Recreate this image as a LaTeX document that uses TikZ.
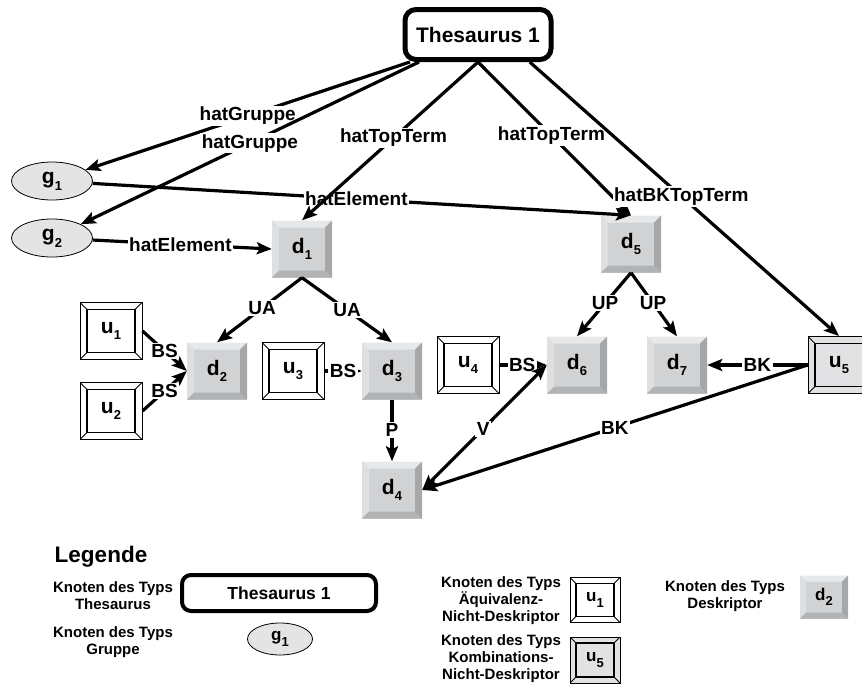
\documentclass[tikz,border=0pt]{standalone}
\usepackage{fontspec}
\setmainfont{Liberation Sans}
\usetikzlibrary{arrows.meta,shapes.geometric}

\definecolor{dmid}{HTML}{D1D2D4}
\definecolor{dtop}{HTML}{E7E8EA}
\definecolor{dleft}{HTML}{DEDFE1}
\definecolor{dright}{HTML}{A6A7A9}
\definecolor{dbot}{HTML}{B2B3B5}
\definecolor{kfill}{HTML}{E2E2E4}
\definecolor{gfill}{HTML}{E4E4E4}

% lowered index digit in the node names
\newcommand\lowidx[1]{\raisebox{-0.32em}{\fontsize{13}{13}\selectfont #1}}

\tikzset{
  bevel/.store in=\bevelw, bevel=7pt,
  % descriptor: grey key-cap with light top/left and dark right/bottom bevel
  desc/.style={rectangle, inner sep=0pt, minimum width=60pt, minimum height=57pt,
    fill=dmid, font=\fontsize{21}{21}\selectfont\bfseries,
    path picture={
      \fill[dtop] (path picture bounding box.north west) -- (path picture bounding box.north east)
        -- ([shift={(-\bevelw,-\bevelw)}]path picture bounding box.north east)
        -- ([shift={(\bevelw,-\bevelw)}]path picture bounding box.north west) -- cycle;
      \fill[dleft] (path picture bounding box.north west) -- (path picture bounding box.south west)
        -- ([shift={(\bevelw,\bevelw)}]path picture bounding box.south west)
        -- ([shift={(\bevelw,-\bevelw)}]path picture bounding box.north west) -- cycle;
      \fill[dright] (path picture bounding box.north east) -- (path picture bounding box.south east)
        -- ([shift={(-\bevelw,\bevelw)}]path picture bounding box.south east)
        -- ([shift={(-\bevelw,-\bevelw)}]path picture bounding box.north east) -- cycle;
      \fill[dbot] (path picture bounding box.south west) -- (path picture bounding box.south east)
        -- ([shift={(-\bevelw,\bevelw)}]path picture bounding box.south east)
        -- ([shift={(\bevelw,\bevelw)}]path picture bounding box.south west) -- cycle;
    }},
  % non-descriptor: double frame with mitred corners
  equiv/.style={rectangle, inner sep=0pt, minimum width=62pt, minimum height=57pt,
    fill=white, draw=black, line width=1pt, font=\fontsize{21}{21}\selectfont\bfseries,
    path picture={
      \draw[line width=1.6pt] ([shift={(\bevelw,-\bevelw)}]path picture bounding box.north west)
        rectangle ([shift={(-\bevelw,\bevelw)}]path picture bounding box.south east);
      \draw[line width=0.8pt]
        (path picture bounding box.north west) -- ++(\bevelw,-\bevelw)
        (path picture bounding box.north east) -- ++(-\bevelw,-\bevelw)
        (path picture bounding box.south west) -- ++(\bevelw,\bevelw)
        (path picture bounding box.south east) -- ++(-\bevelw,\bevelw);
    }},
  komb/.style={equiv, fill=kfill},
  grp/.style={ellipse, draw=black, line width=0.8pt, fill=gfill, inner sep=0pt,
    minimum width=81pt, minimum height=38pt, font=\fontsize{21}{21}\selectfont\bfseries},
  thesbox/.style={rectangle, rounded corners=11pt, draw=black, line width=5pt, fill=white,
    minimum width=146pt, minimum height=50pt, font=\fontsize{21}{21}\selectfont\bfseries},
  conn/.style={line width=3.2pt, -{Stealth[length=15pt,width=12pt,inset=3pt]}},
  both/.style={line width=3.2pt, {Stealth[length=15pt,width=12pt,inset=3pt]}-{Stealth[length=15pt,width=12pt,inset=3pt]}},
  lab/.style={fill=white, inner sep=1.5pt, font=\fontsize{19}{19}\selectfont\bfseries},
  legtext/.style={align=center, font=\fontsize{15}{17}\selectfont\bfseries},
}

\begin{document}
\begin{tikzpicture}[x=1pt, y=-1pt]
\useasboundingbox (0,0) rectangle (862,689);
\clip (0,0) rectangle (862,689);

% ---- nodes ----
\node[thesbox] (thes) at (478,34.5) {Thesaurus 1};
\node[grp] (g1) at (52,181) {g\lowidx{1}};
\node[grp] (g2) at (52,238) {g\lowidx{2}};
\node[desc] (d1) at (302,249) {d\lowidx{1}};
\node[desc] (d5) at (631,244) {d\lowidx{5}};
\node[desc] (d2) at (217,371) {d\lowidx{2}};
\node[desc] (d3) at (392,371) {d\lowidx{3}};
\node[desc] (d4) at (392,490) {d\lowidx{4}};
\node[desc] (d6) at (577,365) {d\lowidx{6}};
\node[desc] (d7) at (677,365) {d\lowidx{7}};
\node[equiv] (u1) at (111,331) {u\lowidx{1}};
\node[equiv] (u2) at (111,411) {u\lowidx{2}};
\node[equiv] (u3) at (293,371) {u\lowidx{3}};
\node[equiv] (u4) at (468,365) {u\lowidx{4}};
\node[komb] (u5) at (839,365) {u\lowidx{5}};

% ---- connectors ----
\draw[conn] (thes.-158) -- node[lab]{hatGruppe} (g1);
\draw[conn] (thes.-155) -- node[lab]{hatGruppe} (g2);
\draw[conn] (g1) -- node[lab,pos=0.49]{hatElement} (d5.north);
\draw[conn] (thes.south) -- node[lab,pos=0.48]{hatTopTerm} (d1.north);
\draw[conn] (thes.south) -- node[lab,pos=0.48]{hatTopTerm} (d5.north);
\draw[conn] (thes.-28) -- node[lab,pos=0.49]{hatBKTopTerm} (u5.north);
\draw[conn] (g2) -- node[lab,pos=0.49]{hatElement} (d1.west);
\draw[conn] (d1.south) -- node[lab,pos=0.47]{UA} (d2.north);
\draw[conn] (d1.south) -- node[lab,pos=0.5]{UA} (d3.north);
\draw[conn] (u1.east) -- node[lab]{BS} (d2.west);
\draw[conn] (u2.east) -- node[lab]{BS} (d2.west);
\draw[conn] (u3.east) -- node[lab]{BS} (d3.west);
\draw[conn] (d3.south) -- node[lab,pos=0.49]{P} (d4.north);
\draw[conn] (u4.east) -- node[lab,pos=0.48]{BS} (d6.west);
\draw[conn] (d5.south) -- node[lab,pos=0.48]{UP} (d6.north);
\draw[conn] (d5.south) -- node[lab,pos=0.48]{UP} (d7.north);
\draw[conn] (u5.west) -- node[lab]{BK} (d7.east);
\draw[conn] (u5.west) -- node[lab]{BK} (d4.east);
\draw[both] (d4.east) -- node[lab,pos=0.49]{V} (d6.west);

% ---- legend ----
\node[font=\fontsize{22.5}{22.5}\selectfont\bfseries] (legtitle) at (101,557) {Legende};
\node[legtext] (lt1) at (113,596) {Knoten des Typs\\Thesaurus};
\node[thesbox, minimum width=194pt, minimum height=36pt, line width=4pt, rounded corners=9pt,
      font=\fontsize{17.5}{17.5}\selectfont\bfseries] (lthes) at (279,593) {Thesaurus 1};
\node[legtext] (lt2) at (113,642) {Knoten des Typs\\Gruppe};
\node[grp, minimum width=65pt, minimum height=32pt, font=\fontsize{17}{17}\selectfont\bfseries]
      (lg1) at (280,639) {g\lowidx{1}};
\node[legtext] (lt3) at (501,601) {Knoten des Typs\\Äquivalenz-\\Nicht-Deskriptor};
\node[equiv, bevel=6pt, minimum width=50pt, minimum height=45pt, font=\fontsize{17}{17}\selectfont\bfseries]
      (lu1) at (595,600) {u\lowidx{1}};
\node[legtext] (lt4) at (501,659) {Knoten des Typs\\Kombinations-\\Nicht-Deskriptor};
\node[komb, bevel=6pt, minimum width=50pt, minimum height=46pt, font=\fontsize{17}{17}\selectfont\bfseries]
      (lu5) at (595,660) {u\lowidx{5}};
\node[legtext] (lt5) at (725,596) {Knoten des Typs\\Deskriptor};
\node[desc, bevel=6pt, minimum width=48pt, minimum height=43pt, font=\fontsize{17}{17}\selectfont\bfseries]
      (ld2) at (824,597) {d\lowidx{2}};
\end{tikzpicture}
\end{document}
